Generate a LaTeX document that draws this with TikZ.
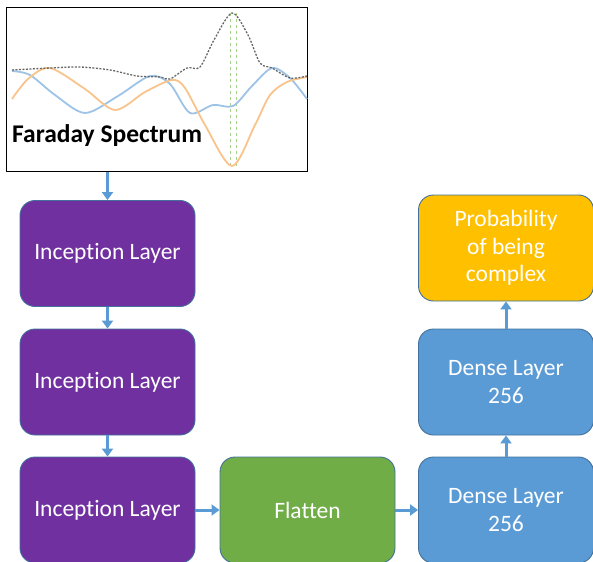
\documentclass[tikz,border=0pt]{standalone}
\usepackage{fontspec}
\setmainfont[Ligatures=NoCommon]{Carlito}
\usepackage{tikz}
\usetikzlibrary{positioning,calc,arrows.meta}

\definecolor{incepPurple}{HTML}{7030A0}
\definecolor{flatGreen}{HTML}{70AD47}
\definecolor{denseBlue}{HTML}{5B9BD5}
\definecolor{probGold}{HTML}{FFC000}
\definecolor{edgeBlue}{HTML}{41719C}
\definecolor{curveBlue}{HTML}{9DC3E6}
\definecolor{curveOrange}{HTML}{F8C48C}
\definecolor{peakGreen}{HTML}{A9D18E}

\begin{document}
\begin{tikzpicture}[x=1pt, y=-1pt,
  layer/.style={draw=edgeBlue, line width=0.9pt, rounded corners=15pt, text=white,
    minimum width=175pt, minimum height=106pt, align=center,
    font=\fontsize{23.5}{27.5}\selectfont},
  flow/.style={draw=denseBlue, line width=3pt, -{Triangle[length=8pt, width=11pt]}}]
  \useasboundingbox (0,0) rectangle (593,561);
  \clip (0,0) rectangle (593,561);

  % Faraday spectrum panel
  \node[draw, line width=1pt, minimum width=301pt, minimum height=164pt, inner sep=0pt] (spectrum) at (156.5, 90) {};
  \draw[peakGreen, dashed, line width=0.8pt] (230, 13) -- (230, 166);
  \draw[peakGreen, dashed, line width=0.8pt] (236, 13) -- (236, 166);
  \draw[curveBlue, line width=1.8pt] plot[smooth] coordinates {(12,71) (30,75) (55,95) (85,113) (118,96) (150,76) (170,84) (190,113) (213,105) (233,106) (252,86) (272,68) (290,78) (307,99)};
  \draw[curveOrange, line width=1.8pt] plot[smooth] coordinates {(12,99) (28,79) (50,68) (85,89) (115,110) (145,92) (172,80) (185,88) (205,125) (232,166) (255,125) (270,95) (287,82) (307,77)};
  \draw[black!60, dash pattern=on 2pt off 1.5pt, line width=1.3pt] plot[smooth] coordinates {(12,70) (50,68) (80,67) (110,70) (137,76) (160,77) (170,79) (187,68) (200,67) (214,40) (232,13) (248,35) (260,63) (272,68) (290,78) (307,76)};
  \node[anchor=base west, inner sep=0pt, font=\fontsize{25.5}{30}\selectfont\bfseries] (specLabel) at (12, 143) {Faraday Spectrum};

  % network layers
  \node[layer, fill=incepPurple] (incep1) at (107.5, 253.5) {Inception Layer};
  \node[layer, fill=incepPurple] (incep2) at (107.5, 382) {Inception Layer};
  \node[layer, fill=incepPurple] (incep3) at (107.5, 510) {Inception Layer};
  \node[layer, fill=flatGreen] (flatten) at (307.5, 510) {Flatten};
  \node[layer, fill=denseBlue] (dense1) at (506, 510) {Dense Layer\\256};
  \node[layer, fill=denseBlue] (dense2) at (506, 382) {Dense Layer\\256};
  \node[layer, fill=probGold] (prob) at (506, 248) {Probability\\of being\\complex};

  % connections
  \draw[flow] (spectrum.south -| incep1.north) -- (incep1.north);
  \draw[flow] (incep1) -- (incep2);
  \draw[flow] (incep2) -- (incep3);
  \draw[flow] (incep3) -- (flatten);
  \draw[flow] (flatten) -- (dense1);
  \draw[flow] (dense1) -- (dense2);
  \draw[flow] (dense2) -- (prob);
\end{tikzpicture}
\end{document}
